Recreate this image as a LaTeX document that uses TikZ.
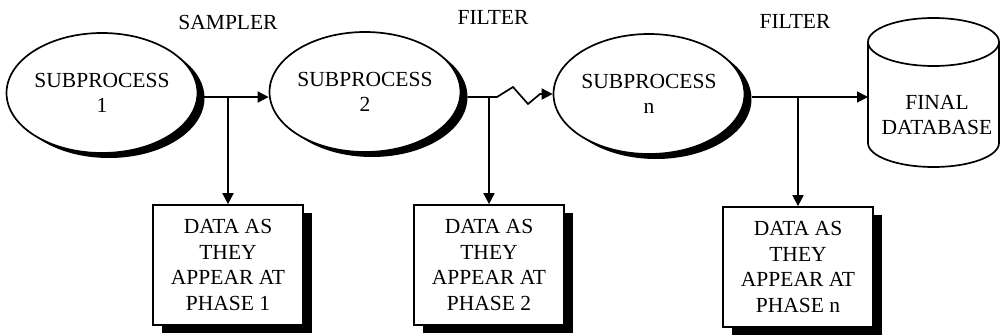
\documentclass[tikz,border=0pt]{standalone}
\usepackage{fontspec}
\setmainfont{Liberation Serif}
\usetikzlibrary{shapes.geometric,shadows,arrows.meta,calc}
\begin{document}
\begin{tikzpicture}[x=1pt,y=-1pt,
  font=\fontsize{21.5}{25.5}\selectfont, line width=1.7pt,
  proc/.style={ellipse, draw, fill=white, minimum width=188, minimum height=120,
    inner sep=0, align=center,
    drop shadow={shadow xshift=7pt, shadow yshift=-5pt, fill=black, opacity=1}},
  databox/.style={draw, fill=white, minimum width=150, minimum height=120,
    inner sep=0, align=center,
    drop shadow={shadow xshift=9pt, shadow yshift=-8pt, fill=black, opacity=1}},
  arr/.style={-{Triangle[length=11pt,width=11pt]}},
  lbl/.style={inner sep=0}]
\useasboundingbox (0,0) rectangle (1002,335);

% cylinder
\filldraw[fill=white] (868,42) -- (868,143) arc[start angle=180,end angle=0,x radius=65.5,y radius=24] -- (999,42);
\draw (933.5,42) ellipse [x radius=65.5, y radius=24];
\node[lbl, align=center] (db) at (937,115) {FINAL\\DATABASE};
\coordinate (dbw) at (868,97);

\node[proc] (e1) at (102,93) {SUBPROCESS\\1};
\node[proc] (e2) at (365,92) {SUBPROCESS\\2};
\node[proc] (e3) at (649,94) {SUBPROCESS\\n};

\node[databox] (b1) at (228,265) {DATA AS\\THEY\\APPEAR AT\\PHASE 1};
\node[databox] (b2) at (489,265) {DATA AS\\THEY\\APPEAR AT\\PHASE 2};
\node[databox] (b3) at (798,267) {DATA AS\\THEY\\APPEAR AT\\PHASE n};

\node[lbl] (l1) at (228,22) {SAMPLER};
\node[lbl] (l2) at (493,17) {FILTER};
\node[lbl] (l3) at (795,21) {FILTER};

\draw[arr] ($(e1.east)+(6,4)$) coordinate (s1) -- (s1 -| e2.west);
\draw[arr] (b1.north |- s1) -- (b1.north);

\draw[arr] ($(e2.east)+(6,5)$) coordinate (s2) -- (497,97) -- (513,87) -- (528,104) -- (540,94) -- (e3.west);
\draw[arr] (b2.north |- s2) -- (b2.north);

\draw[arr] ($(e3.east)+(7,3)$) coordinate (s3) -- (dbw);
\draw[arr] (b3.north |- s3) -- (b3.north);
\end{tikzpicture}
\end{document}
